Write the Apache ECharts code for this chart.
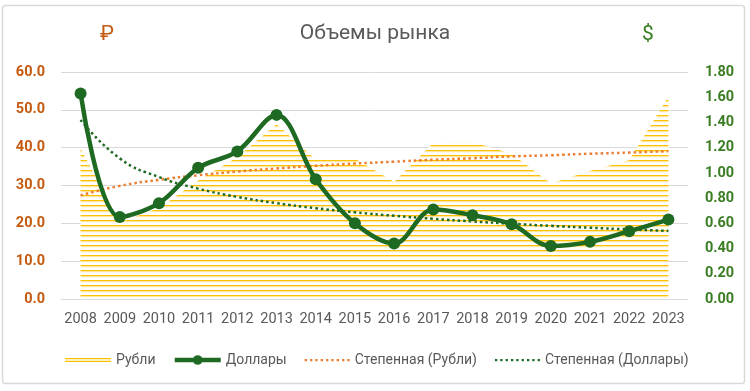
<!DOCTYPE html>
<html>
<head>
<meta charset="utf-8">
<script src="https://cdn.jsdelivr.net/npm/echarts@6/dist/echarts.min.js"></script>
<style>
html,body{margin:0;padding:0;background:#fff;}
#chart{width:750px;height:391px;}
</style>
</head>
<body>
<div id="chart"></div>
<script>
const years = ['2008','2009','2010','2011','2012','2013','2014','2015','2016','2017','2018','2019','2020','2021','2022','2023'];
const rubles = [39.8,20.3,24.0,31.3,37.5,46.2,36.9,37.1,30.9,41.3,41.5,38.4,30.5,33.8,36.7,53.5];
const dollars = [1.63,0.65,0.76,1.04,1.17,1.46,0.95,0.60,0.44,0.71,0.665,0.593,0.42,0.453,0.538,0.63];
const rublesTrend = [27.4,29.9,31.5,32.7,33.7,34.5,35.2,35.8,36.3,36.8,37.2,37.7,38.0,38.4,38.7,39.1];
const dollarsTrend = [1.42,1.115,0.967,0.875,0.81,0.76,0.72,0.687,0.66,0.636,0.615,0.597,0.58,0.565,0.552,0.54];
const leftTicks = {min:0, max:60, interval:10};
const rightTicks = {min:0, max:1.8, interval:0.2};

// stripe pattern for the ruble area
const pat = document.createElement('canvas');
pat.width = 8; pat.height = 5;
const pc = pat.getContext('2d');
pc.fillStyle = '#ffffff'; pc.fillRect(0,0,8,5);
pc.fillStyle = '#ffc000'; pc.fillRect(0,0,8,1.3);
pc.fillStyle = '#ffe699'; pc.fillRect(0,1.3,8,0.9);

// dotted legend icon path
let dotPath = 'path://M0,0H0.01V0.01H0ZM46,12H45.99V11.99H46Z';
for (let x = 1; x < 46; x += 5.5) dotPath += 'M' + x + ',5H' + (x + 2.4) + 'V7.4H' + x + 'Z';

const chart = echarts.init(document.getElementById('chart'), null, {renderer:'canvas'});
const font = 'Roboto, "Noto Sans", sans-serif';
chart.setOption({
  animation:false,
  backgroundColor:'#ffffff',
  graphic:[{type:'rect', shape:{x:2.5,y:5.5,width:742,height:378,r:3}, style:{fill:'none', stroke:'#d9d9d9', lineWidth:1.5}, z:-10}],
  title:[
    {text:'Объемы рынка', left:'center', top:18, textStyle:{fontFamily:font, fontSize:21, fontWeight:'normal', color:'#595959'}},
    {text:'₽', left:95, top:19, textStyle:{fontFamily:font, fontSize:21, fontWeight:'normal', color:'#c55a11'}},
    {text:'$', left:637, top:19, textStyle:{fontFamily:font, fontSize:21, fontWeight:'normal', color:'#3a7d22'}}
  ],
  grid:{left:61, right:62, top:72, bottom:92},
  legend:{
    left:60, top:348, itemWidth:46, itemHeight:12, itemGap:17,
    textStyle:{fontFamily:font, fontSize:14, color:'#595959'},
    data:[
      {name:'Рубли', icon:'path://M0,0H0.01V0.01H0ZM46,12H45.99V11.99H46ZM0,4H46V5.3H0ZM0,6.8H46V8.1H0Z', itemStyle:{color:'#ffc000'}},
      {name:'Доллары', lineStyle:{width:4.5, color:'#1e6a22'}},
      {name:'Степенная (Рубли)', icon:dotPath, itemStyle:{color:'#ed7d31'}},
      {name:'Степенная (Доллары)', icon:dotPath, itemStyle:{color:'#1e6a22'}}
    ]
  },
  xAxis:{type:'category', data:years, boundaryGap:true,
    axisLine:{lineStyle:{color:'#d9d9d9', width:1}}, axisTick:{show:false},
    axisLabel:{interval:0, fontFamily:font, fontSize:14.5, color:'#595959', margin:13}},
  yAxis:[
    {type:'value', min:leftTicks.min, max:leftTicks.max, interval:leftTicks.interval,
     axisLine:{show:false}, axisTick:{show:false},
     splitLine:{lineStyle:{color:'#d9d9d9', width:1}},
     axisLabel:{fontFamily:font, fontSize:14.5, fontWeight:'bold', color:'#c55a11', margin:16, formatter:v=>v.toFixed(1)}},
    {type:'value', min:rightTicks.min, max:rightTicks.max, interval:rightTicks.interval, position:'right',
     axisLine:{show:false}, axisTick:{show:false}, splitLine:{show:false},
     axisLabel:{fontFamily:font, fontSize:14.5, fontWeight:'bold', color:'#3a7d22', margin:17, formatter:v=>v.toFixed(2)}}
  ],
  series:[
    {name:'Рубли', type:'line', yAxisIndex:0, data:rubles, symbol:'none',
     lineStyle:{width:0, color:'#ffc000'}, itemStyle:{color:'#ffc000'},
     areaStyle:{color:{image:pat, repeat:'repeat'}, opacity:1}, z:1},
    {name:'Степенная (Рубли)', type:'line', yAxisIndex:0, data:rublesTrend, symbol:'none', smooth:true,
     lineStyle:{width:2.5, color:'#ed7d31', type:[2.5,3]}, itemStyle:{color:'#ed7d31'}, z:3},
    {name:'Степенная (Доллары)', type:'line', yAxisIndex:1, data:dollarsTrend, symbol:'none', smooth:true,
     lineStyle:{width:2.5, color:'#1e6a22', type:[2.5,3]}, itemStyle:{color:'#1e6a22'}, z:3},
    {name:'Доллары', type:'line', yAxisIndex:1, data:dollars, smooth:0.35,
     symbol:'circle', symbolSize:12,
     lineStyle:{width:4.5, color:'#1e6a22'}, itemStyle:{color:'#1e6a22'}, z:5}
  ]
});
</script>
</body>
</html>
